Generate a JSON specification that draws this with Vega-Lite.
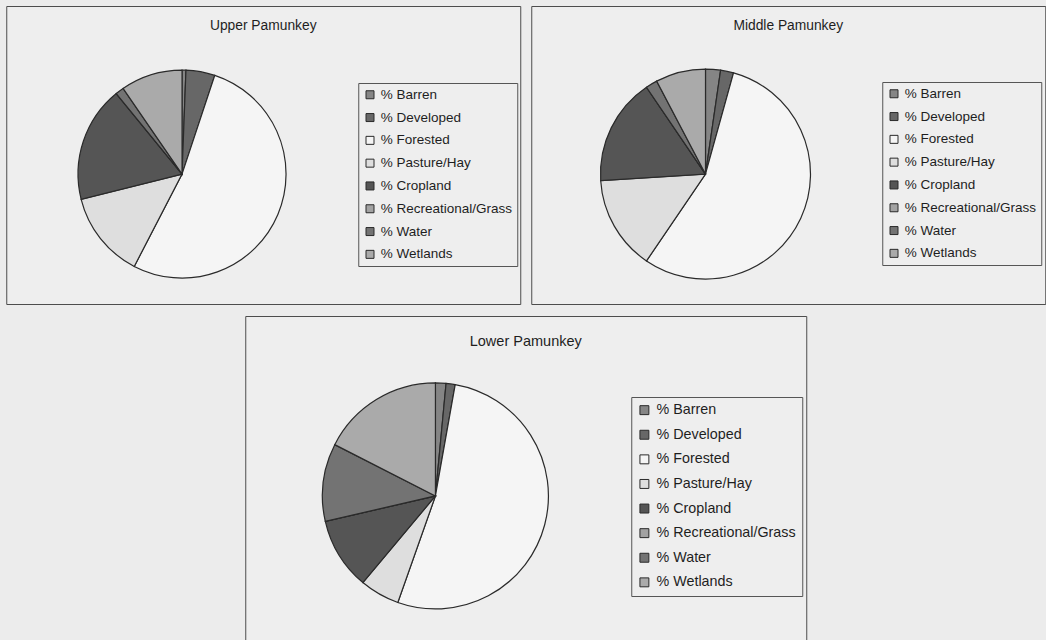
{
  "$schema": "https://vega.github.io/schema/vega-lite/v6.json",
  "background": "#ececec",
  "padding": {"left": 5, "top": 5, "right": 0, "bottom": 0},
  "datasets": {
    "upper": [
      {"land_use": "% Barren", "rank": 1, "pct": 0.6},
      {"land_use": "% Developed", "rank": 2, "pct": 4.5},
      {"land_use": "% Forested", "rank": 3, "pct": 52.5},
      {"land_use": "% Pasture/Hay", "rank": 4, "pct": 13.5},
      {"land_use": "% Cropland", "rank": 5, "pct": 18.0},
      {"land_use": "% Recreational/Grass", "rank": 6, "pct": 0},
      {"land_use": "% Water", "rank": 7, "pct": 1.3},
      {"land_use": "% Wetlands", "rank": 8, "pct": 9.6}
    ],
    "middle": [
      {"land_use": "% Barren", "rank": 1, "pct": 2.3},
      {"land_use": "% Developed", "rank": 2, "pct": 2.0},
      {"land_use": "% Forested", "rank": 3, "pct": 55.2},
      {"land_use": "% Pasture/Hay", "rank": 4, "pct": 14.5},
      {"land_use": "% Cropland", "rank": 5, "pct": 16.5},
      {"land_use": "% Recreational/Grass", "rank": 6, "pct": 0},
      {"land_use": "% Water", "rank": 7, "pct": 1.8},
      {"land_use": "% Wetlands", "rank": 8, "pct": 7.7}
    ],
    "lower": [
      {"land_use": "% Barren", "rank": 1, "pct": 1.5},
      {"land_use": "% Developed", "rank": 2, "pct": 1.3},
      {"land_use": "% Forested", "rank": 3, "pct": 52.6},
      {"land_use": "% Pasture/Hay", "rank": 4, "pct": 5.7},
      {"land_use": "% Cropland", "rank": 5, "pct": 10.3},
      {"land_use": "% Recreational/Grass", "rank": 6, "pct": 0},
      {"land_use": "% Water", "rank": 7, "pct": 11.1},
      {"land_use": "% Wetlands", "rank": 8, "pct": 17.5}
    ]
  },
  "vconcat": [
    {
      "hconcat": [
        {
          "width": 514,
          "height": 298,
          "title": {"text": "Upper Pamunkey", "offset": -27},
          "data": {"name": "upper"},
          "mark": {"type": "arc", "radius": 104, "stroke": "#2a2a2a", "strokeWidth": 1.2},
          "encoding": {
            "x": {"datum": 0.342, "type": "quantitative", "scale": {"domain": [0, 1]}, "axis": null},
            "y": {"datum": 0.564, "type": "quantitative", "scale": {"domain": [0, 1], "reverse": true}, "axis": null},
            "theta": {"field": "pct", "type": "quantitative", "stack": true},
            "order": {"field": "rank", "type": "quantitative"},
            "color": {
              "field": "land_use",
              "type": "nominal",
              "scale": {
                "domain": ["% Barren", "% Developed", "% Forested", "% Pasture/Hay", "% Cropland", "% Recreational/Grass", "% Water", "% Wetlands"],
                "range": ["#858585", "#676767", "#f5f5f5", "#dedede", "#555555", "#a2a2a2", "#737373", "#aaaaaa"]
              },
              "legend": {"orient": "none", "legendX": 352, "legendY": 77, "labelFontSize": 13.5, "rowPadding": 7.8, "symbolSize": 64, "labelOffset": 4, "padding": 5}
            }
          }
        },
        {
          "width": 514,
          "height": 298,
          "title": {"text": "Middle Pamunkey", "offset": -27},
          "data": {"name": "middle"},
          "mark": {"type": "arc", "radius": 105, "stroke": "#2a2a2a", "strokeWidth": 1.2},
          "encoding": {
            "x": {"datum": 0.339, "type": "quantitative", "scale": {"domain": [0, 1]}, "axis": null},
            "y": {"datum": 0.564, "type": "quantitative", "scale": {"domain": [0, 1], "reverse": true}, "axis": null},
            "theta": {"field": "pct", "type": "quantitative", "stack": true},
            "order": {"field": "rank", "type": "quantitative"},
            "color": {
              "field": "land_use",
              "type": "nominal",
              "scale": {
                "domain": ["% Barren", "% Developed", "% Forested", "% Pasture/Hay", "% Cropland", "% Recreational/Grass", "% Water", "% Wetlands"],
                "range": ["#858585", "#676767", "#f5f5f5", "#dedede", "#555555", "#a2a2a2", "#737373", "#aaaaaa"]
              },
              "legend": {"orient": "none", "legendX": 351, "legendY": 76, "labelFontSize": 13.5, "rowPadding": 7.8, "symbolSize": 64, "labelOffset": 4, "padding": 5}
            }
          }
        }
      ],
      "spacing": 9,
      "resolve": {"scale": {"color": "independent", "x": "independent", "y": "independent"}, "legend": {"color": "independent"}}
    },
    {
      "width": 561,
      "height": 326,
      "title": {"text": "Lower Pamunkey", "offset": -33, "fontSize": 14.5},
      "data": {"name": "lower"},
      "mark": {"type": "arc", "radius": 113, "stroke": "#2a2a2a", "strokeWidth": 1.2},
      "encoding": {
        "x": {"datum": 0.339, "type": "quantitative", "scale": {"domain": [0, 1]}, "axis": null},
        "y": {"datum": 0.552, "type": "quantitative", "scale": {"domain": [0, 1], "reverse": true}, "axis": null},
        "theta": {"field": "pct", "type": "quantitative", "stack": true},
        "order": {"field": "rank", "type": "quantitative"},
        "color": {
          "field": "land_use",
          "type": "nominal",
          "scale": {
            "domain": ["% Barren", "% Developed", "% Forested", "% Pasture/Hay", "% Cropland", "% Recreational/Grass", "% Water", "% Wetlands"],
            "range": ["#858585", "#676767", "#f5f5f5", "#dedede", "#555555", "#a2a2a2", "#737373", "#aaaaaa"]
          },
          "legend": {"orient": "none", "legendX": 386, "legendY": 81, "labelFontSize": 14.3, "rowPadding": 9.6, "symbolSize": 80, "labelOffset": 5, "padding": 6}
        }
      }
    }
  ],
  "spacing": 10,
  "center": true,
  "resolve": {"scale": {"color": "independent", "x": "independent", "y": "independent"}, "legend": {"color": "independent"}},
  "config": {
    "font": "Liberation Sans",
    "view": {"stroke": "#4d4d4d", "strokeWidth": 1, "fill": "#eeeeee"},
    "title": {"fontSize": 13.8, "fontWeight": "normal", "color": "#1e1e1e", "anchor": "middle"},
    "legend": {
      "title": null,
      "labelColor": "#1e1e1e",
      "labelFont": "Liberation Sans",
      "symbolType": "square",
      "symbolStrokeColor": "#2a2a2a",
      "symbolStrokeWidth": 1,
      "strokeColor": "#555555",
      "fillColor": "#eeeeee",
      "labelLimit": 300
    }
  }
}
